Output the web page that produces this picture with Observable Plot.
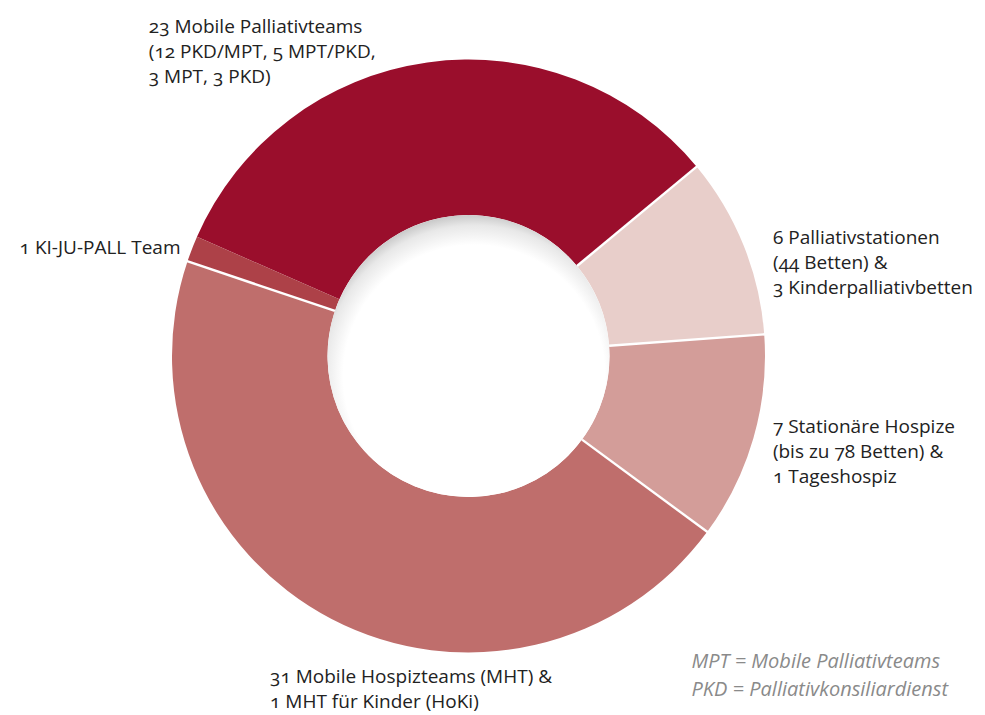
<!DOCTYPE html>
<html>
<head>
<meta charset="utf-8">
<script src="https://cdn.jsdelivr.net/npm/d3@7"></script>
<script src="https://cdn.jsdelivr.net/npm/@observablehq/plot@0.6"></script>
<style>
  body { margin: 0; background: #fff; }
  #chart svg { display: block; }
</style>
</head>
<body>
<div id="chart"></div>
<script>
// ---- data ----
const categories = ["Mobile Palliativteams", "Palliativstationen", "Stationäre Hospize", "Mobile Hospizteams", "KI-JU-PALL Team"];
const values = [23, 7, 8, 32, 1];
const labels = [
  "23 Mobile Palliativteams\n(12 PKD/MPT, 5 MPT/PKD,\n3 MPT, 3 PKD)",
  "6 Palliativstationen\n(44 Betten) &\n3 Kinderpalliativbetten",
  "7 Stationäre Hospize\n(bis zu 78 Betten) &\n1 Tageshospiz",
  "31 Mobile Hospizteams (MHT) &\n1 MHT für Kinder (HoKi)",
  "1 KI-JU-PALL Team"
];
const colors = ["#9a0e2c", "#e8ceca", "#d39d99", "#bf6e6c", "#ad4148"];
const footnotes = ["MPT = Mobile Palliativteams", "PKD = Palliativkonsiliardienst"];

// ---- layout ----
const W = 985, H = 715;
const CX = 468.5, CY = 356, R = 296.5;   // donut centre and outer radius (px)
const INNER = 0.4755;                      // inner radius / outer radius
const START = -66.3 * Math.PI / 180;       // start angle of first slice
const FONT = 19, LINE = 25;
const labelLayout = {
  "Mobile Palliativteams": {anchor: "start", dx: -279, dy: 20},
  "Palliativstationen":    {anchor: "start", dx: 29,   dy: 48},
  "Stationäre Hospize":    {anchor: "start", dx: 19,   dy: 44},
  "Mobile Hospizteams":    {anchor: "start", dx: -62,  dy: 89},
  "KI-JU-PALL Team":       {anchor: "end",   dx: -12,  dy: 5}
};

const table = categories.map((c, i) => ({category: c, value: values[i], label: labels[i], color: colors[i]}));
const arcs = d3.pie().sort(null).value(d => d.value)
  .startAngle(START).endAngle(START + 2 * Math.PI)(table);
const rows = arcs.map(a => {
  const m = (a.startAngle + a.endAngle) / 2;
  return {...a.data, x: Math.sin(m), y: -Math.cos(m)};
});

function donut(index, scales) {
  const sx = typeof scales.x === "function" ? scales.x : (v => CX + v * R);
  const sy = typeof scales.y === "function" ? scales.y : (v => CY + v * R);
  const ox = sx(0), oy = sy(0), rOut = sx(1) - sx(0), rIn = rOut * INNER;
  const g = d3.create("svg:g");
  const grad = g.append("defs").append("radialGradient")
    .attr("id", "holeShadow").attr("cx", 0.52).attr("cy", 0.57).attr("r", 0.58);
  grad.append("stop").attr("offset", 0.80).attr("stop-color", "#ffffff");
  grad.append("stop").attr("offset", 0.92).attr("stop-color", "#e8e8e8");
  grad.append("stop").attr("offset", 1).attr("stop-color", "#c2c2c2");
  const arc = d3.arc().innerRadius(rIn).outerRadius(rOut);
  const c = g.append("g").attr("transform", `translate(${ox},${oy})`);
  c.selectAll("path").data(arcs).join("path")
    .attr("d", arc).attr("fill", d => d.data.color);
  c.selectAll("line").data(arcs.slice(1)).join("line")
    .attr("x1", d => rIn * Math.sin(d.startAngle))
    .attr("y1", d => -rIn * Math.cos(d.startAngle))
    .attr("x2", d => (rOut + 2) * Math.sin(d.startAngle))
    .attr("y2", d => -(rOut + 2) * Math.cos(d.startAngle))
    .attr("stroke", "#fff").attr("stroke-width", 2.4);
  c.append("circle").attr("r", rIn).attr("fill", "url(#holeShadow)");
  return g.node();
}

const labelMarks = rows.map(r => {
  const L = labelLayout[r.category];
  return Plot.text([r], {
    x: "x", y: "y", text: "label",
    textAnchor: L.anchor, lineAnchor: "bottom", dx: L.dx, dy: L.dy,
    fontSize: FONT, lineHeight: LINE / FONT, fill: "#222",
    fontVariant: "oldstyle-nums", letterSpacing: 0.3
  });
});

const chart = Plot.plot({
  width: W, height: H, margin: 0,
  x: {domain: [-CX / R, (W - CX) / R], range: [0, W], axis: null},
  y: {domain: [-CY / R, (H - CY) / R], range: [0, H], axis: null},
  style: {fontFamily: "'Open Sans', sans-serif", background: "#fff"},
  marks: [
    donut,
    ...labelMarks,
    Plot.text([footnotes.join("\n")], {
      text: d => d, frameAnchor: "bottom-right", textAnchor: "start", lineAnchor: "bottom",
      dx: -294, dy: -20, fontSize: 20, lineHeight: 28 / 20, letterSpacing: 0.2,
      fontStyle: "italic", fill: "#8a8a8a"
    })
  ]
});
document.getElementById("chart").appendChild(chart);
</script>
</body>
</html>
